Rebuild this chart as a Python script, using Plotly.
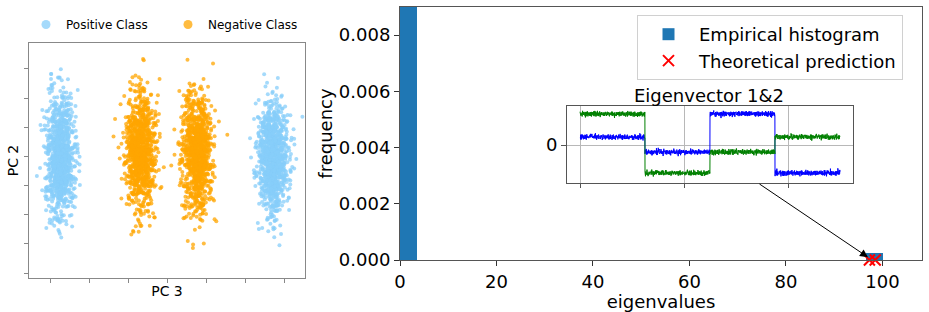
import numpy as np
import plotly.graph_objects as go

W, H = 929, 312

# ---------------- data ----------------
# left panel: four clusters projected on (PC 3, PC 2)
cluster_names = ["Positive Class", "Negative Class", "Negative Class", "Positive Class"]
cluster_center_x = [-2.74, -0.69, 0.77, 2.72]
cluster_center_y = [0.0, 0.15, 0.1, 0.0]
cluster_std_x = [0.19, 0.19, 0.19, 0.2]
cluster_std_y = [1.0, 1.0, 1.0, 1.0]
cluster_count = [1000, 1000, 1000, 1000]
class_colors = {"Positive Class": "#87CEFA", "Negative Class": "#FFA500"}

# right panel: eigenvalue histogram (density)
bin_left = [0.0, 96.6]
bin_width = [3.45, 3.45]
bin_density = [0.29, 0.000232]
theory_eigs = [97.3, 98.5]
theory_freq = [0.0, 0.0]

# inset: eigenvector 1 & 2 (four blocks of 625 entries)
block_len = 625
ev1_levels = [0.8, -0.7, 3.1, -2.8]
ev2_levels = [3.1, -2.8, -0.7, 0.8]
ev_noise = 0.12

# ---------------- figure ----------------
rng = np.random.default_rng(7)
fig = go.Figure()

def px_x(p):
    return p / W

def px_y(p):
    return 1 - p / H

# left scatter
for name, cx, cy, sx, sy, n in zip(cluster_names, cluster_center_x, cluster_center_y,
                                    cluster_std_x, cluster_std_y, cluster_count):
    xs = rng.normal(cx, sx, n)
    ys = rng.normal(cy, sy, n)
    fig.add_trace(go.Scatter(x=xs, y=ys, mode="markers", xaxis="x", yaxis="y",
                             marker=dict(size=4, color=class_colors[name], opacity=0.75, line=dict(width=0)),
                             showlegend=False, hoverinfo="skip"))
for name in ["Positive Class", "Negative Class"]:
    fig.add_trace(go.Scatter(x=[None], y=[None], mode="markers", xaxis="x", yaxis="y",
                             marker=dict(size=9, color=class_colors[name], opacity=0.75),
                             name=name, legend="legend"))

# histogram
fig.add_trace(go.Bar(x=[l + w / 2 for l, w in zip(bin_left, bin_width)], y=bin_density,
                     width=bin_width, marker=dict(color="#1f77b4", line=dict(width=0)),
                     xaxis="x2", yaxis="y2", name="Empirical histogram", legend="legend2"))
fig.add_trace(go.Scatter(x=theory_eigs, y=theory_freq, mode="markers", xaxis="x2", yaxis="y2",
                         marker=dict(symbol="x-thin", size=11, line=dict(width=2, color="red"), color="red"),
                         name="Theoretical prediction", legend="legend2", cliponaxis=False))

# inset eigenvectors
idx = np.arange(block_len * 4)
for levels, col in [(ev1_levels, "#0000ff"), (ev2_levels, "#008000")]:
    base = np.repeat(levels, block_len)
    fig.add_trace(go.Scatter(x=idx, y=base + rng.normal(0, ev_noise, base.size), mode="lines",
                             line=dict(color=col, width=1), xaxis="x3", yaxis="y3",
                             showlegend=False, hoverinfo="skip"))

font_family = "DejaVu Sans"
fig.update_layout(
    width=W, height=H, margin=dict(l=0, r=0, t=0, b=0, autoexpand=False),
    paper_bgcolor="white", plot_bgcolor="white",
    font=dict(family=font_family, color="black"),
    bargap=0,
    xaxis=dict(domain=[px_x(29), px_x(305)], range=[-3.56, 3.54], tickvals=[-3, -2, -1, 0, 1, 2, 3],
               showticklabels=False, ticks="outside", ticklen=4, tickcolor="#888", automargin=False,
               showgrid=False, zeroline=False, showline=True, mirror=True, linecolor="#888",
               title=dict(text="PC 3", font=dict(size=14), standoff=4), anchor="y"),
    yaxis=dict(domain=[px_y(278), px_y(43)], range=[-4.17, 3.89], tickvals=list(range(-4, 4)),
               showticklabels=False, ticks="outside", ticklen=4, tickcolor="#888", automargin=False,
               showgrid=False, zeroline=False, showline=True, mirror=True, linecolor="#888",
               title=dict(text="PC 2", font=dict(size=14), standoff=2), anchor="x"),
    xaxis2=dict(domain=[px_x(400), px_x(922)], range=[0, 108.2], tickvals=[0, 20, 40, 60, 80, 100],
                ticks="outside", ticklen=5, tickcolor="#333", tickfont=dict(size=18), automargin=False,
                showgrid=False, zeroline=False, showline=True, mirror=True, linecolor="#555",
                title=dict(text="eigenvalues", font=dict(size=18), standoff=1), anchor="y2"),
    yaxis2=dict(domain=[px_y(260), px_y(7)], range=[0, 0.009], tickvals=[0, 0.002, 0.004, 0.006, 0.008],
                tickformat=".3f", ticks="outside", ticklen=5, tickcolor="#333", tickfont=dict(size=18),
                automargin=False,
                showgrid=False, zeroline=False, showline=True, mirror=True, linecolor="#555",
                title=dict(text="frequency", font=dict(size=18), standoff=1), anchor="x2"),
    xaxis3=dict(domain=[px_x(567), px_x(853)], range=[-125, 2625], tickvals=[0, 1000, 2000],
                showticklabels=False, ticks="outside", ticklen=4, tickcolor="#555", automargin=False,
                showgrid=True, gridcolor="#b8b8b8", gridwidth=1, zeroline=False,
                showline=True, mirror=True, linecolor="#555", anchor="y3"),
    yaxis3=dict(domain=[px_y(183), px_y(106)], range=[-3.8, 3.9], tickvals=[0], ticktext=["0"],
                ticks="outside", ticklen=5, tickcolor="#555", tickfont=dict(size=18), automargin=False,
                showgrid=True, gridcolor="#b8b8b8", gridwidth=1, zeroline=False,
                showline=True, mirror=True, linecolor="#555", anchor="x3"),
    legend=dict(orientation="h", x=px_x(26), y=px_y(10), xanchor="left", yanchor="top",
                font=dict(size=12), bgcolor="rgba(0,0,0,0)", entrywidth=97, entrywidthmode="pixels"),
    legend2=dict(x=px_x(637), y=px_y(15), xanchor="left", yanchor="top", font=dict(size=18),
                 bgcolor="white", bordercolor="#d0d0d0", borderwidth=1, tracegroupgap=0,
                 itemwidth=51),
)

fig.add_annotation(text="Eigenvector 1&2", x=px_x(709), y=px_y(95), xref="paper", yref="paper",
                   showarrow=False, font=dict(size=18), xanchor="center", yanchor="middle")
fig.add_annotation(x=97.0, y=0.0001, xref="x2", yref="y2", ax=74.2, ay=0.00274, axref="x2", ayref="y2",
                   showarrow=True, arrowhead=2, arrowsize=1.6, arrowwidth=1, arrowcolor="black", text="")

fig.write_html("out.html")
